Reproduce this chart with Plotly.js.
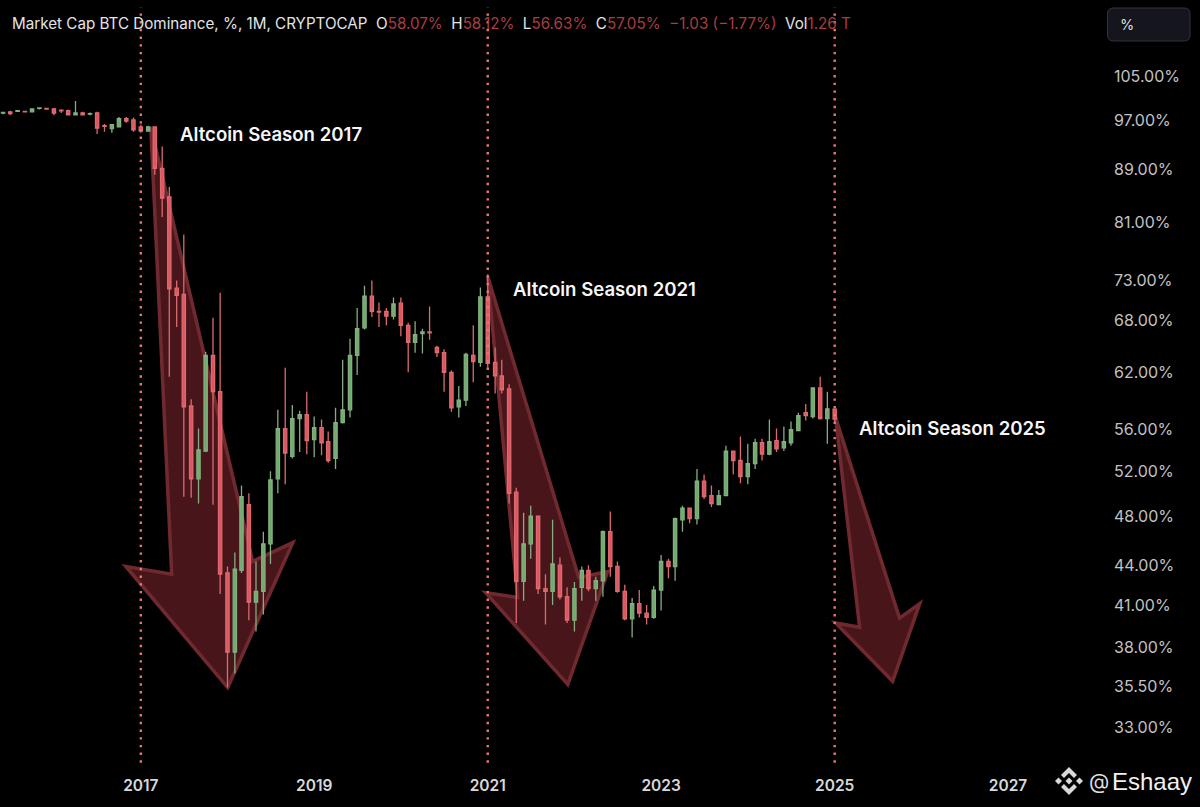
<!DOCTYPE html>
<html><head><meta charset="utf-8">
<script src="https://cdn.plot.ly/plotly-3.0.1.min.js"></script>
<style>html,body{margin:0;padding:0;background:#000}#c{width:1200px;height:807px}</style>
</head><body><div id="c"></div>
<script>
const opens=[98.3,98.5,98.6,98.6,98.5,99.1,99.1,99.0,98.8,98.7,98.0,98.3,98.1,98.3,96.1,95.6,95.9,97.3,97.1,
95.9,95.2,95.9,89.1,84.7,72.0,71.2,58.4,51.3,53.9,63.9,59.9,
43.4,37.7,43.6,49.0,41.2,42.0,45.7,51.3,56.1,53.4,57.1,57.5,
55.0,56.2,54.8,53.2,56.7,58.0,63.9,67.1,71.0,69.1,69.1,68.5,
70.1,67.4,65.4,66.4,66.6,64.8,64.2,62.0,58.3,59.0,63.9,63.1,
70.9,63.1,61.6,60.2,50.1,42.75,45.7,48.0,42.2,42.0,44.0,41.6,
39.9,42.3,43.6,42.2,42.8,46.7,43.9,42.0,40.0,41.1,40.4,40.1,
42.1,44.3,43.9,47.7,48.7,47.8,51.1,49.8,49.0,49.8,53.9,53.0,
51.5,52.7,54.7,53.6,54.9,54.2,54.7,55.9,57.7,57.3,60.3,57.1,
58.07];
const highs=[98.5,98.7,98.8,98.7,99.1,99.3,99.2,99.2,98.9,98.9,100.4,98.5,98.4,98.5,96.4,96.4,97.6,97.6,97.5,
96.3,96.1,96.0,92.6,86.2,73.0,79.2,59.1,56.1,64.3,68.3,71.4,
43.9,45.0,50.7,50.0,44.3,46.7,52.0,58.0,62.5,58.5,57.9,59.9,
57.3,57.0,55.8,58.2,63.4,65.8,69.5,72.3,73.0,70.2,69.5,70.8,
70.8,67.7,67.9,67.0,69.7,65.0,64.6,62.2,60.5,64.2,67.4,72.1,
73.8,64.8,63.4,60.7,50.5,48.3,48.9,48.0,43.3,47.7,44.6,42.3,
42.7,43.9,44.0,43.1,46.8,48.4,44.3,42.5,41.5,42.1,41.0,42.4,
44.8,44.5,47.9,48.9,48.7,52.2,51.7,50.7,50.3,54.4,53.9,55.3,
54.6,55.1,55.1,57.0,56.1,56.3,56.8,57.7,58.6,60.3,61.5,59.9,
58.12];
const lows=[98.1,97.9,98.5,98.4,98.4,98.9,98.9,97.9,98.3,98.0,97.9,97.9,97.9,94.7,95.1,94.9,95.8,96.6,95.1,
94.9,95.1,88.1,81.7,61.5,67.2,49.7,49.6,49.1,53.8,49.0,41.8,
35.4,36.3,43.4,39.9,39.1,40.3,44.1,50.0,50.8,53.2,53.8,53.6,
53.3,53.5,52.8,52.2,56.6,57.2,61.7,66.9,68.4,67.2,67.4,68.1,
66.1,62.0,64.2,64.1,65.7,63.7,59.9,57.8,57.2,58.4,60.9,62.6,
62.5,59.7,59.7,49.1,39.7,41.3,44.5,41.8,39.6,41.0,41.4,39.7,
39.1,41.3,42.0,41.3,41.6,43.1,41.9,39.9,38.7,40.1,39.6,40.0,
40.6,43.0,42.8,46.7,47.4,47.3,49.5,48.8,49.0,49.8,51.7,50.9,
50.8,52.2,53.0,53.5,53.8,53.9,54.4,55.9,56.9,57.1,57.0,54.6,
56.63];
const closes=[98.4,98.2,98.7,98.5,99.0,99.2,99.0,98.3,98.7,98.0,98.3,98.0,98.2,95.7,96.0,96.3,97.3,96.9,95.4,
95.2,95.9,89.1,84.5,71.9,71.1,58.3,51.3,54.0,63.9,59.9,43.3,
37.7,43.7,49.7,41.2,42.0,45.7,51.2,56.1,53.7,57.1,57.5,54.9,
56.2,54.7,53.0,56.7,58.0,63.9,67.0,71.0,69.1,69.0,68.5,70.0,
67.4,65.4,66.3,66.6,66.5,64.2,62.0,58.2,59.0,64.0,63.2,70.9,
63.0,61.6,60.1,50.0,42.75,45.7,48.0,42.2,42.0,44.1,41.6,39.9,
42.2,43.6,42.2,42.8,46.7,43.9,42.0,40.0,41.1,40.4,40.1,42.1,
44.3,43.9,47.8,48.7,47.8,51.1,49.7,49.1,49.8,53.9,53.0,51.5,
52.7,54.7,53.6,54.8,54.1,54.8,56.0,57.4,57.4,60.3,57.1,58.1,
57.05];
const firstMonth=[2015,5]; // June 2015, zero-based month
const yTicks=[105,97,89,81,73,68,62,56,52,48,44,41,38,35.5,33];
const yLabels=["105.00%","97.00%","89.00%","81.00%","73.00%","68.00%","62.00%","56.00%","52.00%","48.00%","44.00%","41.00%","38.00%","35.50%","33.00%"];
const xTicks=["2017-01-01","2019-01-01","2021-01-01","2023-01-01","2025-01-01","2027-01-01"];
const xLabels=["2017","2019","2021","2023","2025","2027"];
const seasonDates=["2017-01-01","2021-01-01","2025-01-01"];
const arrow2017X=["2017-02-12","2018-04-17","2018-10-03","2018-01-02","2016-10-30","2017-05-11"];
const arrow2017Y=[95.9,44.3,45.8,35.4,43.9,43.3];
const arrow2021X=["2021-01-01","2022-01-19","2022-05-21","2021-12-04","2020-12-23","2021-05-07"];
const arrow2021Y=[73.5,43.05,43.5,35.6,41.9,41.55];
const arrow2025X=["2025-01-05","2025-10-01","2025-12-25","2025-09-02","2025-01-05","2025-04-16"];
const arrow2025Y=[57.2,40.05,41.1,35.8,39.7,39.4];

const months=opens.map((_,i)=>{
  const t=firstMonth[0]*12+firstMonth[1]+i;
  const y=Math.floor(t/12), m=t%12+1;
  return y+"-"+String(m).padStart(2,"0")+"-01";
});
const PW=1113, PH=765;
const FONT="Inter, 'Liberation Sans', sans-serif";
const px=x=>(x/PW).toFixed(5), py=y=>(1-y/PH).toFixed(5);

function arrow(xs,ys){
  return {type:"path",xref:"x",yref:"y",layer:"below",
    path:"M"+xs.map((x,i)=>x+","+ys[i]).join(" L")+" Z",
    fillcolor:"#48161a",line:{color:"#702a2f",width:3.5}};
}
function paperPoly(points,color){
  return {type:"path",xref:"paper",yref:"paper",layer:"above",
    path:"M"+points.map(p=>px(p[0])+","+py(p[1])).join(" L")+" Z",
    fillcolor:color,line:{width:0}};
}
const logoC="#d8d8d8", lx=1069, ly=781;
const logo=[
  [[0,-14],[8,-6],[5,-3],[0,-8],[-5,-3],[-8,-6]],
  [[0,14],[8,6],[5,3],[0,8],[-5,3],[-8,6]],
  [[-14,0],[-10.5,-3.5],[-7,0],[-10.5,3.5]],
  [[14,0],[10.5,-3.5],[7,0],[10.5,3.5]],
  [[0,-3.5],[3.5,0],[0,3.5],[-3.5,0]]
].map(pts=>paperPoly(pts.map(p=>[lx+p[0],ly+p[1]]),logoC));

const bx0=1107.5,bx1=1190,by0=8,by1=41,r=6;
const button={type:"path",xref:"paper",yref:"paper",layer:"above",
  path:`M${px(bx0+r)},${py(by0)} L${px(bx1-r)},${py(by0)} Q${px(bx1)},${py(by0)} ${px(bx1)},${py(by0+r)} L${px(bx1)},${py(by1-r)} Q${px(bx1)},${py(by1)} ${px(bx1-r)},${py(by1)} L${px(bx0+r)},${py(by1)} Q${px(bx0)},${py(by1)} ${px(bx0)},${py(by1-r)} L${px(bx0)},${py(by0+r)} Q${px(bx0)},${py(by0)} ${px(bx0+r)},${py(by0)} Z`,
  fillcolor:"#14151d",line:{color:"#34353c",width:1}};

const dots=seasonDates.map(d=>({type:"line",xref:"x",yref:"paper",x0:d,x1:d,y0:0.003,y1:0.99,layer:"above",
  line:{color:"#e8786f",width:2.4,dash:"2.4px,5.3px"}}));

const W="#e4e4e4",R="#a83d42";
const header=`<span style="color:${W}">Market Cap BTC Dominance, %, 1M, CRYPTOCAP&nbsp;&nbsp;O</span><span style="color:${R}">58.07%</span><span style="color:${W}">&nbsp;&nbsp;H</span><span style="color:${R}">58.12%</span><span style="color:${W}">&nbsp;&nbsp;L</span><span style="color:${R}">56.63%</span><span style="color:${W}">&nbsp;&nbsp;C</span><span style="color:${R}">57.05%&nbsp;&nbsp;−1.03 (−1.77%)</span><span style="color:${W}">&nbsp;&nbsp;Vol</span><span style="color:${R}">1.26 T</span>`;

function note(text,x,y,size,opt){
  return Object.assign({xref:"paper",yref:"paper",x:x/PW,y:1-y/PH,text:text,showarrow:false,
    xanchor:"left",yanchor:"middle",font:{family:FONT,size:size,color:"#f4f4f4"}},opt||{});
}
const labelFont={family:FONT,size:18.6,color:"#f6f6f6",weight:600};
const annotations=[
  note(header,10,23,15.2),
  note("Altcoin Season 2017",178,134,18.6,{font:labelFont}),
  note("Altcoin Season 2021",511,289,18.6,{font:labelFont}),
  note("Altcoin Season 2025",857,428,18.6,{font:labelFont}),
  note("%",1118,25,14.5,{font:{family:FONT,size:14.5,color:"#dcdcdc"}}),
  note("@",1087,781,21,{font:{family:FONT,size:21,color:"#dcdcdc"}}),
  note("Eshaay",1110,782,24,{font:{family:"'Liberation Sans', sans-serif",size:24,color:"#f0f0f0"}})
];

const trace={type:"candlestick",x:months,open:opens,high:highs,low:lows,close:closes,
  increasing:{line:{color:"#84ad80",width:1.3},fillcolor:"#6fac6c"},
  decreasing:{line:{color:"#dc6a70",width:1.3},fillcolor:"#df5560"},
  whiskerwidth:0,hoverinfo:"none"};

const layout={
  width:1200,height:807,paper_bgcolor:"#000",plot_bgcolor:"#000",showlegend:false,dragmode:false,
  margin:{l:0,r:1200-PW,t:0,b:807-PH,pad:0},
  xaxis:{type:"date",range:["2015-05-19","2028-03-18"],tickmode:"array",tickvals:xTicks,ticktext:xLabels,
    showgrid:false,zeroline:false,showline:false,ticks:"",rangeslider:{visible:false},ticklabelstandoff:9,
    tickfont:{family:FONT,size:15.5,color:"#d8d8d8",weight:600}},
  yaxis:{type:"log",side:"right",range:[1.4892,2.0798],autorange:false,tickmode:"array",tickvals:yTicks,ticktext:yLabels,
    showgrid:false,zeroline:false,showline:false,ticks:"",
    tickfont:{family:FONT,size:16,color:"#c2c2c2"}},
  shapes:[arrow(arrow2017X,arrow2017Y),arrow(arrow2021X,arrow2021Y),arrow(arrow2025X,arrow2025Y),...dots,button,...logo],
  annotations:annotations
};
Plotly.newPlot("c",[trace],layout,{displayModeBar:false,staticPlot:true});
</script></body></html>
